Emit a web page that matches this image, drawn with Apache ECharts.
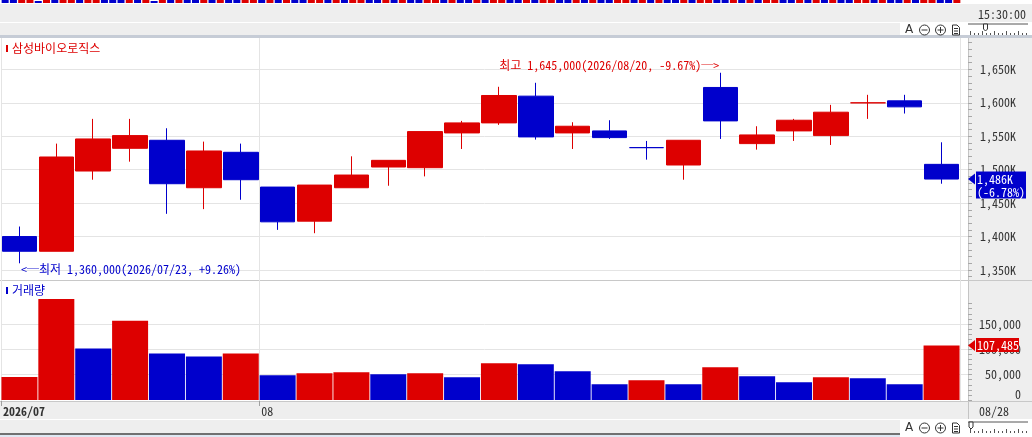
<!DOCTYPE html>
<html>
<head>
<meta charset="utf-8">
<script src="https://cdn.jsdelivr.net/npm/echarts@6.0.0/dist/echarts.min.js"></script>
<style>
html,body{margin:0;padding:0;background:#eeeeee;overflow:hidden;}
.b{position:absolute;}
#c{position:absolute;left:0;top:0;width:1032px;height:437px;}
</style>
</head>
<body>
<div class="b" style="left:0;top:0;width:1032px;height:4px;background:#fff"></div>
<div class="b" style="left:0;top:22px;width:1032px;height:1px;background:#fff"></div>
<div class="b" style="left:900px;top:23px;width:132px;height:12px;background:#fff"></div>
<div class="b" style="left:0;top:35px;width:1032px;height:3px;background:#c6ccd6"></div>
<div class="b" style="left:0;top:38px;width:968px;height:363px;background:#fff"></div>
<div class="b" style="left:968px;top:38px;width:1px;height:382px;background:#c4c4c4"></div>
<div class="b" style="left:0;top:280px;width:1032px;height:1px;background:#c8c8c8"></div>
<div class="b" style="left:0;top:401px;width:1032px;height:1px;background:#c8c8c8"></div>
<div class="b" style="left:0;top:419px;width:1032px;height:1px;background:#fff"></div>
<div class="b" style="left:900px;top:420px;width:132px;height:17px;background:#fff"></div>
<div class="b" style="left:0;top:433px;width:900px;height:2px;background:#707070"></div>
<div class="b" style="left:0;top:435px;width:900px;height:2px;background:#dfe8f3"></div>
<div id="c"></div>
<script>
// ---------------- data ----------------
const stockName = '삼성바이오로직스';
const volumeName = '거래량';
const clockText = '15:30:00';
const dates = ['2026/07/23','2026/07/24','2026/07/27','2026/07/28','2026/07/29','2026/07/30','2026/07/31',
  '2026/08/03','2026/08/04','2026/08/05','2026/08/06','2026/08/07','2026/08/10','2026/08/11','2026/08/12',
  '2026/08/13','2026/08/14','2026/08/18','2026/08/19','2026/08/20','2026/08/21','2026/08/24','2026/08/25',
  '2026/08/26','2026/08/27','2026/08/28'];
const opens  = [1400000,1378000,1498000,1532000,1544000,1473000,1526000,1474000,1423000,1473000,1504000,1503000,1555000,
  1570000,1610000,1555000,1558000,1533000,1507000,1623000,1539000,1558000,1551000,1600000,1603000,1508000];
const closes = [1378000,1519000,1546000,1551000,1479000,1528000,1485000,1422000,1477000,1492000,1514000,1557000,1570000,
  1611000,1549000,1565000,1548000,1533000,1544000,1573000,1552000,1574000,1586000,1600000,1594000,1486000];
const lows   = [1360000,1378000,1485000,1512000,1434000,1441000,1455000,1410000,1405000,1473000,1476000,1490000,1531000,
  1567000,1545000,1531000,1546000,1515000,1485000,1546000,1530000,1543000,1537000,1576000,1584000,1479000];
const highs  = [1415000,1539000,1576000,1576000,1562000,1542000,1539000,1474000,1477000,1520000,1514000,1557000,1573000,
  1624000,1630000,1571000,1574000,1543000,1544000,1645000,1565000,1576000,1597000,1612000,1612000,1541000];
const volumes = [45500,199200,101600,156300,91800,85900,91500,48800,52700,54700,50800,52700,44900,
  72300,70300,56600,31300,39100,31000,64500,46900,35200,44900,43000,31300,107485];
const priceLabels = [1350000,1400000,1450000,1500000,1550000,1600000,1650000];
const volumeLabels = [0,50000,100000,150000];
const priceTickRange = [1340000, 1690000, 10000];
const volumeTickRange = [0, 190000, 10000];
// top strip (clipped bars of an upper pane): R/B full, r/b short
const stripBlocks = 'BBRRbRBRRBRRBBBRBRbRBRBBRBRBBRRB' + 'RBRBBRRBRBRRBBRBRBBRRBRBBRBRRB' + 'BRBRRBBRBRBBRRBRBRBBRBRRBBRBRB' + 'RRBBRBRBRBBRRBRBBRBRRBBR';

// ---------------- setup ----------------
const RED = '#dd0000', BLUE = '#0000cc';
const FONT = "'Noto Sans Mono CJK KR','Noto Sans CJK KR','DejaVu Sans Mono',monospace";
const N = dates.length;
const fmt = n => n.toLocaleString('en-US');

// pane geometry (pixels) and value ranges
const P = { top: 40, h: 240, min: 1335000, max: 1694000 };
const maxVol = Math.max(...volumes);
const V = { top: 299, h: 101, min: 0, max: maxVol };
const subGrid = (G, a, b) => ({ left: 1, width: 967,
  top: G.top + (G.max - b) / (G.max - G.min) * G.h,
  height: (b - a) / (G.max - G.min) * G.h });

const candleData = dates.map((d, i) => {
  let up;
  if (closes[i] !== opens[i]) up = closes[i] > opens[i];
  else up = i === 0 ? true : closes[i] >= closes[i - 1];
  const c = up ? RED : BLUE;
  return { value: [opens[i], closes[i], lows[i], highs[i]],
    itemStyle: { color: c, color0: c, borderColor: c, borderColor0: c, borderColorDoji: c } };
});
const volData = volumes.map((v, i) => ({ value: v,
  itemStyle: { color: (i === 0 || v >= volumes[i - 1]) ? RED : BLUE } }));
const monthStarts = dates.map((d, i) => (i === 0 || d.slice(0, 7) !== dates[i - 1].slice(0, 7)) ? i : -1).filter(i => i >= 0);
const stripData = stripBlocks.split('').map(ch => ({
  value: ch === ch.toUpperCase() ? 3 : 2,
  itemStyle: { color: ch.toUpperCase() === 'R' ? RED : BLUE }
}));

const chart = echarts.init(document.getElementById('c'), null, { renderer: 'canvas' });
const hiddenCat = (grid, data) => ({ type: 'category', gridIndex: grid, data: data, boundaryGap: true, show: false });
const hiddenVal = (grid, min, max) => ({ type: 'value', gridIndex: grid, min: min, max: max, show: false,
  axisLine: { onZero: false } });
const tickAxis = (grid, r) => ({ type: 'value', gridIndex: grid, position: 'right', min: r[0], max: r[1], interval: r[2],
  axisLine: { show: false, onZero: false }, axisLabel: { show: false }, splitLine: { show: false },
  axisTick: { show: true, length: 4, lineStyle: { color: '#a8a8a8' } } });

const option = {
  animation: false,
  grid: [
    { left: 1, top: P.top, width: 959, height: P.h },   // 0 price data
    { left: 1, top: V.top, width: 959, height: V.h },   // 1 volume data
    { left: 1, top: 0, width: 960, height: 3 },         // 2 top strip
    { left: 1, top: P.top, width: 967, height: P.h },   // 3 price frame (grid lines + labels)
    { left: 1, top: V.top, width: 967, height: V.h },   // 4 volume frame
    { left: 1, top: 38, width: 959, height: 363 },      // 5 vertical lines + date labels
    subGrid(P, priceTickRange[0], priceTickRange[1]),   // 6 price ticks
    subGrid(V, volumeTickRange[0], volumeTickRange[1])  // 7 volume ticks
  ],
  xAxis: [
    hiddenCat(0, dates),
    hiddenCat(1, dates),
    hiddenCat(2, stripData.map((d, i) => i)),
    hiddenVal(3, 0, 1),
    hiddenVal(4, 0, 1),
    { type: 'category', gridIndex: 5, data: dates, boundaryGap: true,
      axisLine: { show: false, onZero: false }, axisTick: { show: false }, axisLabel: { show: false },
      splitLine: { show: true, interval: (idx) => monthStarts.indexOf(idx) >= 0, lineStyle: { color: '#e4e4e4', width: 1 } } },
    { type: 'value', gridIndex: 5, min: 0, max: N, position: 'bottom',
      axisLine: { show: false, onZero: false }, splitLine: { show: false },
      axisTick: { show: true, customValues: monthStarts, length: 5, lineStyle: { color: '#a0a0a0' } },
      axisLabel: { customValues: monthStarts, align: 'left', margin: 4, fontFamily: FONT, fontSize: 12, color: '#333',
        padding: [0, 0, 0, 2],
        formatter: (v) => { const i = Math.round(v); return i === 0 ? '{b|' + dates[i].slice(0, 7) + '}' : dates[i].slice(5, 7); },
        rich: { b: { fontWeight: 'bold', fontFamily: FONT, fontSize: 12, color: '#333' } } } },
    hiddenVal(6, 0, 1),
    hiddenVal(7, 0, 1)
  ],
  yAxis: [
    hiddenVal(0, P.min, P.max),
    hiddenVal(1, V.min, V.max),
    hiddenVal(2, 0, 3),
    { type: 'value', gridIndex: 3, position: 'right', min: P.min, max: P.max, splitNumber: 7,
      axisLine: { show: false, onZero: false }, axisTick: { show: false },
      splitLine: { show: true, showMinLine: false, showMaxLine: false, lineStyle: { color: '#e4e4e4', width: 1 } },
      axisLabel: { customValues: priceLabels, margin: 12, fontFamily: FONT, fontSize: 12, color: '#333',
        formatter: v => fmt(Math.round(v / 1000)) + 'K' } },
    { type: 'value', gridIndex: 4, position: 'right', min: V.min, max: V.max, interval: 50000,
      axisLine: { show: false, onZero: false }, axisTick: { show: false },
      splitLine: { show: true, showMinLine: false, showMaxLine: false, lineStyle: { color: '#e4e4e4', width: 1 } },
      axisLabel: { customValues: volumeLabels, margin: 53, align: 'right', verticalAlignMinLabel: 'bottom',
        fontFamily: FONT, fontSize: 12, color: '#333', formatter: v => fmt(v) } },
    hiddenVal(5, 0, 1),
    tickAxis(6, priceTickRange),
    tickAxis(7, volumeTickRange)
  ],
  series: [
    { type: 'candlestick', xAxisIndex: 0, yAxisIndex: 0, data: candleData, barWidth: 35,
      itemStyle: { borderWidth: 1 } },
    { type: 'bar', xAxisIndex: 1, yAxisIndex: 1, data: volData, barWidth: 36 },
    { type: 'bar', xAxisIndex: 2, yAxisIndex: 2, data: stripData, barWidth: 7 }
  ]
};
chart.setOption(option);

// ---------------- overlays (positions from the library's scales) ----------------
function txt(x, y, text, color, extra) {
  return Object.assign({ type: 'text', x: x, y: y, z: 10,
    style: Object.assign({ text: text, fill: color, fontFamily: FONT, fontSize: 12,
      align: 'left', textAlign: 'left', verticalAlign: 'middle', textVerticalAlign: 'middle' }, extra || {}) });
}
function toolbar(cy, pinX) {
  const s = '#333';
  const els = [
    txt(905, cy, 'A', s, { fontFamily: 'DejaVu Sans', fontSize: 12 }),
    { type: 'circle', shape: { cx: 924.5, cy: cy, r: 5 }, style: { fill: 'none', stroke: s, lineWidth: 1 } },
    { type: 'line', shape: { x1: 921.5, y1: cy, x2: 927.5, y2: cy }, style: { stroke: s } },
    { type: 'circle', shape: { cx: 940.5, cy: cy, r: 5 }, style: { fill: 'none', stroke: s, lineWidth: 1 } },
    { type: 'line', shape: { x1: 937.5, y1: cy, x2: 943.5, y2: cy }, style: { stroke: s } },
    { type: 'line', shape: { x1: 940.5, y1: cy - 3, x2: 940.5, y2: cy + 3 }, style: { stroke: s } },
    { type: 'polygon', shape: { points: [[952.5, cy - 5], [957, cy - 5], [959.5, cy - 2.5], [959.5, cy + 5], [952.5, cy + 5]] }, style: { fill: 'none', stroke: s } },
    { type: 'line', shape: { x1: 954, y1: cy - 1.5, x2: 958, y2: cy - 1.5 }, style: { stroke: s } },
    { type: 'line', shape: { x1: 954, y1: cy + 1, x2: 958, y2: cy + 1 }, style: { stroke: s } },
    { type: 'line', shape: { x1: 954, y1: cy + 3.5, x2: 958, y2: cy + 3.5 }, style: { stroke: s } },
    { type: 'line', shape: { x1: 968, y1: cy - 6, x2: 1028, y2: cy - 6 }, style: { stroke: '#555' } },
    { type: 'polygon', shape: { points: [[pinX - 2, cy - 6], [pinX + 2, cy - 6], [pinX + 2, cy - 1], [pinX, cy + 1], [pinX - 2, cy - 1]] }, style: { fill: '#fff', stroke: '#333' } }
  ];
  for (let x = 970; x <= 1028; x += 4) {
    const tall = ((x - 970) % 12 === 0);
    els.push({ type: 'line', shape: { x1: x + 0.5, y1: cy + (tall ? 1 : 3), x2: x + 0.5, y2: cy + 5 }, style: { stroke: '#555' } });
  }
  return els;
}

const graphics = [];
graphics.push({ type: 'rect', shape: { x: 6, y: 45, width: 2, height: 7 }, style: { fill: RED } });
graphics.push(txt(12, 48.5, stockName, RED));
graphics.push({ type: 'rect', shape: { x: 6, y: 287, width: 2, height: 7 }, style: { fill: BLUE } });
graphics.push(txt(12, 290.5, volumeName, BLUE));
graphics.push(txt(978, 14, clockText, '#333'));
graphics.push(...toolbar(30, 985.5));
graphics.push(...toolbar(428, 971));
graphics.push(txt(979, 411, dates[N - 1].slice(5), '#333'));

const hiIdx = highs.indexOf(Math.max(...highs));
const loIdx = lows.indexOf(Math.min(...lows));
const last = N - 1, lastClose = closes[last];
const hiPt = chart.convertToPixel({ gridIndex: 0 }, [hiIdx, highs[hiIdx]]);
const loPt = chart.convertToPixel({ gridIndex: 0 }, [loIdx, lows[loIdx]]);
const hiPct = ((lastClose - highs[hiIdx]) / highs[hiIdx] * 100).toFixed(2);
const loPct = ((lastClose - lows[loIdx]) / lows[loIdx] * 100).toFixed(2);
graphics.push(txt(hiPt[0] - 1, hiPt[1] - 7,
  '최고 ' + fmt(highs[hiIdx]) + '(' + dates[hiIdx] + ', ' + hiPct + '%)─>', RED, { align: 'right', textAlign: 'right' }));
graphics.push(txt(loPt[0] + 1.5, loPt[1] + 6,
  '<─최저 ' + fmt(lows[loIdx]) + '(' + dates[loIdx] + ', +' + loPct + '%)', BLUE));

const lastCol = closes[last] >= closes[last - 1] ? RED : BLUE;
const chg = ((lastClose - closes[last - 1]) / closes[last - 1] * 100).toFixed(2);
const lp = chart.convertToPixel({ gridIndex: 0 }, [last, lastClose]);
graphics.push({ type: 'polygon', z: 10, shape: { points: [[968, lp[1]], [975, lp[1] - 5.5], [975, lp[1] + 5.5]] }, style: { fill: lastCol } });
graphics.push({ type: 'rect', z: 10, shape: { x: 976, y: lp[1] - 7.5, width: 50, height: 27 }, style: { fill: lastCol } });
graphics.push(txt(977, lp[1], fmt(Math.round(lastClose / 1000)) + 'K', '#fff'));
graphics.push(txt(977, lp[1] + 13, '(' + chg + '%)', '#fff'));

const lastVolCol = volumes[last] >= volumes[last - 1] ? RED : BLUE;
const vp = chart.convertToPixel({ gridIndex: 1 }, [last, volumes[last]]);
graphics.push({ type: 'polygon', z: 10, shape: { points: [[968, vp[1]], [975, vp[1] - 5.5], [975, vp[1] + 5.5]] }, style: { fill: lastVolCol } });
graphics.push({ type: 'rect', z: 10, shape: { x: 976, y: vp[1] - 7.5, width: 43, height: 14 }, style: { fill: lastVolCol } });
graphics.push(txt(977, vp[1] - 0.5, fmt(volumes[last]), '#fff'));

chart.setOption({ graphic: graphics });
</script>
</body>
</html>
